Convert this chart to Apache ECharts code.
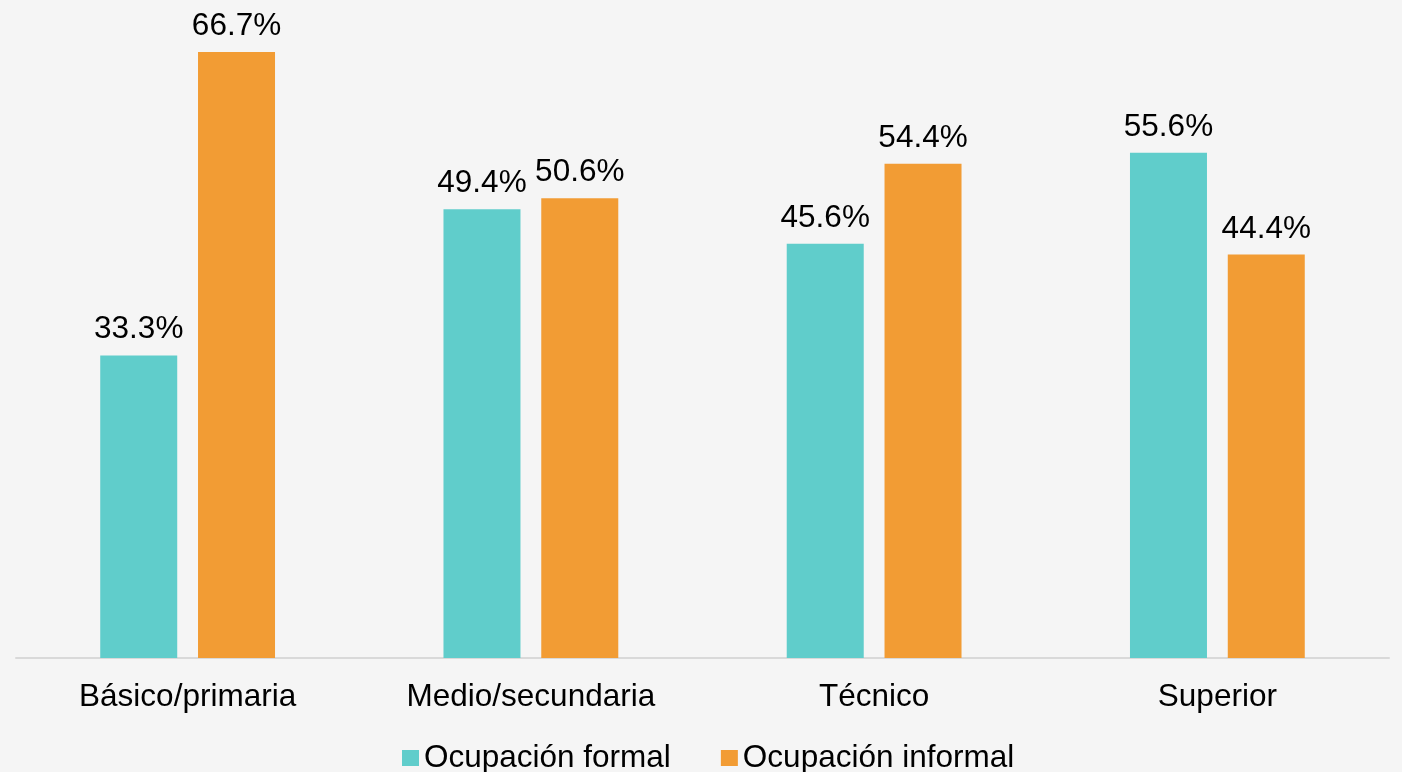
<!DOCTYPE html>
<html>
<head>
<meta charset="utf-8">
<script src="https://cdn.jsdelivr.net/npm/echarts@6/dist/echarts.min.js"></script>
<style>
html,body{margin:0;padding:0;background:#f5f5f5;}
#chart{width:1402px;height:772px;}
</style>
</head>
<body>
<div id="chart"></div>
<script>
const categories = ['Básico/primaria', 'Medio/secundaria', 'Técnico', 'Superior'];
const seriesNames = ['Ocupación formal', 'Ocupación informal'];
const formalValues = [33.3, 49.4, 45.6, 55.6];
const informalValues = [66.7, 50.6, 54.4, 44.4];

const FONT = 'Liberation Sans, Arial, sans-serif';
const chart = echarts.init(document.getElementById('chart'));
const labelCfg = {
  show: true,
  position: 'top',
  distance: 10,
  color: '#000',
  fontFamily: FONT,
  fontSize: 31.5,
  lineHeight: 31.5,
  formatter: p => p.value.toFixed(1) + '%'
};
chart.setOption({
  backgroundColor: '#f5f5f5',
  animation: false,
  grid: { left: 16, right: 13, top: 22, bottom: 114, containLabel: false },
  legend: {
    data: seriesNames,
    left: 397,
    top: 737,
    itemWidth: 17,
    itemHeight: 16,
    itemGap: 50,
    icon: 'rect',
    textStyle: { color: '#000', fontFamily: FONT, fontSize: 31.5, lineHeight: 32 }
  },
  xAxis: {
    type: 'category',
    data: categories,
    axisLine: { lineStyle: { color: '#d9d9d9', width: 2 } },
    axisTick: { show: false },
    axisLabel: { color: '#000', fontFamily: FONT, fontSize: 31.5, lineHeight: 31.5, margin: 24, interval: 0 }
  },
  yAxis: {
    type: 'value',
    min: 0,
    max: 70,
    show: false,
    splitLine: { show: false }
  },
  series: [
    {
      name: seriesNames[0],
      type: 'bar',
      data: formalValues,
      barWidth: 77,
      barGap: '27%',
      itemStyle: { color: '#60cdcb' },
      label: labelCfg
    },
    {
      name: seriesNames[1],
      type: 'bar',
      data: informalValues,
      barWidth: 77,
      barGap: '27%',
      itemStyle: { color: '#f29c34' },
      label: labelCfg
    }
  ]
});
</script>
</body>
</html>
